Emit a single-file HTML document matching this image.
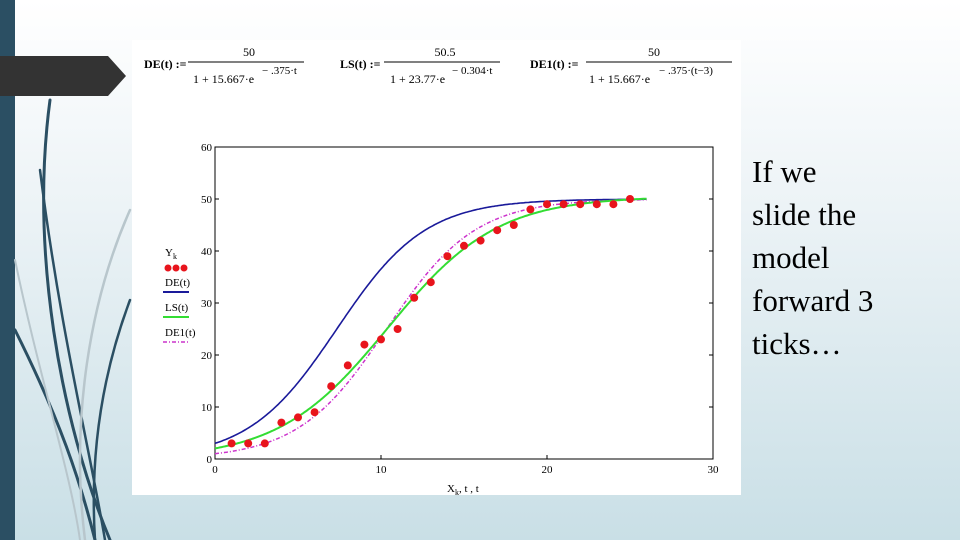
<!DOCTYPE html>
<html><head><meta charset="utf-8"><style>
body{margin:0;width:960px;height:540px;overflow:hidden;position:relative;font-family:"Liberation Serif",serif;
background:linear-gradient(180deg,#ffffff 0%,#eef4f7 35%,#c9dfe6 100%);}
#bar{position:absolute;left:0;top:0;width:15px;height:540px;background:#2b4f63}
#text{position:absolute;left:752px;top:150px;font-size:31px;line-height:43px;color:#000}
</style></head><body>
<div id="bar"></div>
<svg width="960" height="540" style="position:absolute;left:0;top:0">
<g fill="none" stroke-linecap="round">
<path d="M50 100 C 30 250, 60 420, 110 540" stroke="#2b4f63" stroke-width="3"/>
<path d="M40 170 C 60 330, 90 450, 105 540" stroke="#2b4f63" stroke-width="2.5"/>
<path d="M15 330 C 60 420, 80 480, 95 540" stroke="#2b4f63" stroke-width="3"/>
<path d="M130 300 C 100 380, 90 460, 95 540" stroke="#2b4f63" stroke-width="2.5"/>
<path d="M130 210 C 90 300, 70 420, 85 540" stroke="#b8c6cc" stroke-width="2.5"/>
<path d="M15 260 C 40 380, 70 470, 80 540" stroke="#b8c6cc" stroke-width="2"/>
</g>
<polygon points="0,56 108,56 126,76 108,96 0,96" fill="#333333"/>
</svg>
<div style="position:absolute;left:132px;top:40px;width:609px;height:455px;background:#fff"></div>
<svg width="960" height="540" style="position:absolute;left:0;top:0" id="chart" font-family="Liberation Serif, serif">
<g font-size="12" fill="#000">
<text x="144" y="68" font-weight="bold">DE(t) :=</text>
<text x="249" y="56" text-anchor="middle">50</text>
<line x1="188" y1="62" x2="304" y2="62" stroke="#000"/>
<text x="193" y="83">1 + 15.667·e</text><text x="262" y="74" font-size="11">− .375·t</text>
<text x="340" y="68" font-weight="bold">LS(t) :=</text>
<text x="445" y="56" text-anchor="middle">50.5</text>
<line x1="384" y1="62" x2="500" y2="62" stroke="#000"/>
<text x="390" y="83">1 + 23.77·e</text><text x="452" y="74" font-size="11">− 0.304·t</text>
<text x="530" y="68" font-weight="bold">DE1(t) :=</text>
<text x="654" y="56" text-anchor="middle">50</text>
<line x1="586" y1="62" x2="732" y2="62" stroke="#000"/>
<text x="589" y="83">1 + 15.667·e</text><text x="659" y="74" font-size="11">− .375·(t−3)</text>
</g>
<rect x="215" y="147" width="498" height="312" fill="none" stroke="#000"/>
<g id="ticks" font-size="11"></g>
<g id="marks"></g>
<g font-size="11">
<text x="165" y="256">Y</text><text x="173" y="259" font-size="8">k</text>
<circle cx="168" cy="268" r="3.5" fill="#e8141c"/><circle cx="176" cy="268" r="3.5" fill="#e8141c"/><circle cx="184" cy="268" r="3.5" fill="#e8141c"/>
<text x="165" y="286">DE(t)</text><line x1="163" y1="292" x2="189" y2="292" stroke="#1a1a9a" stroke-width="2"/>
<text x="165" y="311">LS(t)</text><line x1="163" y1="317" x2="189" y2="317" stroke="#33dd33" stroke-width="2"/>
<text x="165" y="336">DE1(t)</text><line x1="163" y1="342" x2="189" y2="342" stroke="#cc33cc" stroke-width="1.5" stroke-dasharray="4,2,1,2"/>
</g>
<text x="447" y="492" font-size="11">X<tspan font-size="8" dy="3">k</tspan><tspan dy="-3">, t , t</tspan></text>
</svg>
<div id="text">If we<br>slide the<br>model<br>forward 3<br>ticks…</div>
<script>
const xTicks=[0,10,20,30];
const yTicks=[0,10,20,30,40,50,60];
const dataX=[1,2,3,4,5,6,7,8,9,10,11,12,13,14,15,16,17,18,19,20,21,22,23,24,25];
const dataY=[3,3,3,7,8,9,14,18,22,23,25,31,34,39,41,42,44,45,48,49,49,49,49,49,50];
const deParams=[50,15.667,0.375,0];
const lsParams=[50.5,23.77,0.304,0];
const de1Params=[50,15.667,0.375,3];
const tRange=[0,26];
const X=v=>215+v*(498/30), Y=v=>459-v*(312/60);
const NS='http://www.w3.org/2000/svg';
const tk=document.getElementById('ticks'), mk=document.getElementById('marks');
function el(t,a,p){const e=document.createElementNS(NS,t);for(const k in a)e.setAttribute(k,a[k]);p.appendChild(e);return e;}
xTicks.forEach(v=>{const t=el('text',{x:X(v),y:473,'text-anchor':'middle'},tk);t.textContent=v;


el('line',{x1:X(v),y1:459,x2:X(v),y2:455,stroke:'#000'},tk);});
yTicks.forEach(v=>{const t=el('text',{x:212,y:Y(v)+4,'text-anchor':'end'},tk);t.textContent=v;


el('line',{x1:215,y1:Y(v),x2:219,y2:Y(v),stroke:'#000'},tk);
el('line',{x1:713,y1:Y(v),x2:709,y2:Y(v),stroke:'#000'},tk);});
function curve(p,color,w,dash,name){let d='';for(let i=0;i<=260;i++){const t=tRange[0]+(tRange[1]-tRange[0])*i/260;
const v=p[0]/(1+p[1]*Math.exp(-p[2]*(t-p[3])));d+=(i?'L':'M')+X(t).toFixed(1)+' '+Y(v).toFixed(1);}
const e=el('path',{d:d,fill:'none',stroke:color,'stroke-width':w},mk);if(dash)e.setAttribute('stroke-dasharray',dash);

}
curve(deParams,'#1a1a9a',1.6,null,'de-curve');
curve(de1Params,'#cc33cc',1.5,'4,2,1,2','de1-curve');
curve(lsParams,'#33dd33',2,null,'ls-curve');
dataX.forEach((x,i)=>{const c=el('circle',{cx:X(x),cy:Y(dataY[i]),r:4,fill:'#e8141c'},mk);

});
</script>
</body></html>
